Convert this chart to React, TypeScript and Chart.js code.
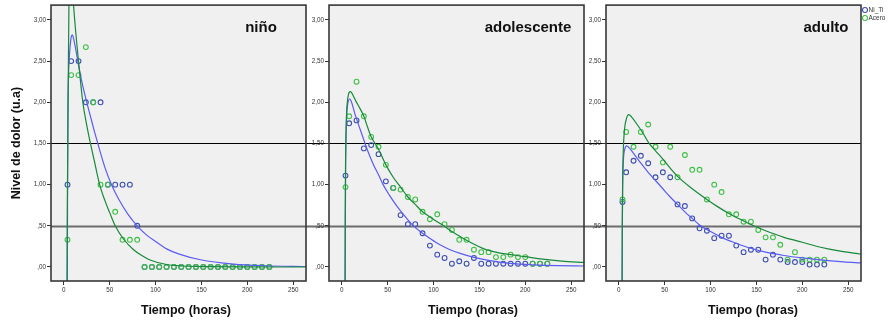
import React, { useEffect, useRef } from "react";
import { Chart, registerables } from "chart.js";

Chart.register(...registerables);

// ---------- DATA ----------
const sampleHours = [4, 8, 16, 24, 32, 40, 48, 56, 64, 72, 80, 88, 96, 104, 112, 120, 128, 136, 144, 152, 160, 168, 176, 184, 192, 200, 208, 216, 224];

const ninoNiTi = [1.0, 2.5, 2.5, 2.0, 2.0, 2.0, 1.0, 1.0, 1.0, 1.0, 0.5, 0, 0, 0, 0, 0, 0, 0, 0, 0, 0, 0, 0, 0, 0, 0, 0, 0, 0];
const ninoAcero = [0.33, 2.33, 2.33, 2.67, 2.0, 1.0, 1.0, 0.67, 0.33, 0.33, 0.33, 0, 0, 0, 0, 0, 0, 0, 0, 0, 0, 0, 0, 0, 0, 0, 0, 0, 0];

const adolNiTi = [1.11, 1.745, 1.78, 1.44, 1.48, 1.37, 1.04, 0.96, 0.63, 0.52, 0.52, 0.41, 0.26, 0.15, 0.11, 0.04, 0.07, 0.04, 0.11, 0.04, 0.04, 0.04, 0.04, 0.04, 0.04, 0.04, 0.04, 0.04, 0.04];
const adolAcero = [0.97, 1.83, 2.25, 1.83, 1.58, 1.46, 1.24, 0.96, 0.94, 0.85, 0.82, 0.67, 0.58, 0.64, 0.52, 0.45, 0.33, 0.33, 0.21, 0.18, 0.18, 0.12, 0.12, 0.15, 0.12, 0.12, 0.04, 0.04, 0.04];

const adultoNiTi = [0.79, 1.15, 1.29, 1.35, 1.26, 1.09, 1.15, 1.09, 0.76, 0.74, 0.59, 0.47, 0.44, 0.35, 0.38, 0.38, 0.26, 0.18, 0.21, 0.21, 0.09, 0.15, 0.09, 0.06, 0.06, 0.06, 0.03, 0.03, 0.03];
const adultoAcero = [0.82, 1.64, 1.46, 1.64, 1.73, 1.46, 1.27, 1.46, 1.09, 1.36, 1.18, 1.18, 0.82, 1.0, 0.91, 0.64, 0.64, 0.55, 0.55, 0.45, 0.36, 0.36, 0.27, 0.09, 0.18, 0.09, 0.09, 0.09, 0.09];

// fitted curves
const ninoNiTiCurveT = [3.7, 3.9, 4.1, 4.4, 5, 6, 7, 8, 9, 10, 12.7, 16, 20, 25, 29, 33, 37, 45, 52, 60, 70, 80, 90, 100, 112, 125, 149, 185, 220, 264];
const ninoNiTiCurveV = [-0.6, 0.2, 1.2, 1.9, 2.3, 2.55, 2.7, 2.79, 2.82, 2.8, 2.66, 2.45, 2.23, 2.0, 1.83, 1.66, 1.5, 1.2, 1.0, 0.82, 0.64, 0.5, 0.39, 0.31, 0.22, 0.16, 0.088, 0.035, 0.015, 0.006];
const ninoAceroCurveT = [3.3, 3.6, 4.0, 4.4, 5.0, 5.6, 6.5, 8, 10.5, 13, 16, 20.7, 25, 29, 33, 39, 45, 50, 56, 65, 76, 85, 94, 112, 130, 160, 200, 264];
const ninoAceroCurveV = [-0.6, 0.3, 1.0, 1.6, 2.5, 3.25, 3.8, 3.75, 3.2, 2.85, 2.5, 2.0, 1.72, 1.5, 1.3, 1.0, 0.8, 0.66, 0.5, 0.34, 0.21, 0.14, 0.085, 0.03, 0.012, 0.004, 0.001, 0];

const adolNiTiCurveT = [3.5, 3.8, 4.1, 4.6, 5.3, 6.5, 8.5, 10, 14.5, 20, 25.3, 30, 35, 40, 45, 52, 60, 70, 78, 88, 97, 107, 118, 129, 143, 160, 183, 210, 235, 264];
const adolNiTiCurveV = [-0.6, 0.5, 1.2, 1.6, 1.85, 1.98, 2.04, 2.02, 1.85, 1.67, 1.5, 1.36, 1.23, 1.12, 1.0, 0.87, 0.74, 0.6, 0.5, 0.41, 0.34, 0.27, 0.21, 0.165, 0.12, 0.08, 0.045, 0.026, 0.017, 0.012];
const adolAceroCurveT = [3.4, 3.7, 4.0, 4.5, 5.2, 6.5, 8, 9.5, 11, 15, 20, 24, 28, 32, 40, 48, 56, 64, 72, 80, 88, 96, 104, 111, 120, 129, 140, 155, 170, 184, 200, 219, 240, 264];
const adolAceroCurveV = [-0.6, 0.6, 1.2, 1.6, 1.88, 2.05, 2.12, 2.13, 2.11, 2.02, 1.92, 1.83, 1.7, 1.58, 1.43, 1.24, 1.09, 0.97, 0.85, 0.76, 0.67, 0.61, 0.55, 0.5, 0.43, 0.37, 0.3, 0.22, 0.175, 0.15, 0.125, 0.095, 0.072, 0.055];

const adultoNiTiCurveT = [3.5, 3.8, 4.2, 5, 6.5, 8.5, 11, 16, 24, 32, 40, 48, 56, 64, 72, 80, 88, 100, 112, 125, 140, 160, 180, 200, 225, 245, 264];
const adultoNiTiCurveV = [-0.6, 0.5, 1.0, 1.3, 1.43, 1.47, 1.45, 1.38, 1.26, 1.15, 1.05, 0.95, 0.85, 0.76, 0.67, 0.59, 0.51, 0.43, 0.36, 0.3, 0.24, 0.18, 0.14, 0.11, 0.08, 0.062, 0.05];
const adultoAceroCurveT = [3.4, 3.7, 4.1, 4.8, 6.2, 8, 10.8, 14, 20, 26, 33, 40, 48, 56, 64, 80, 96, 108, 120, 134, 147, 160, 180, 200, 220, 240, 264];
const adultoAceroCurveV = [-0.6, 0.4, 1.0, 1.4, 1.67, 1.79, 1.85, 1.82, 1.73, 1.63, 1.5, 1.41, 1.31, 1.2, 1.1, 0.95, 0.82, 0.73, 0.65, 0.57, 0.5, 0.44, 0.36, 0.3, 0.24, 0.195, 0.155];

const xTickValues = [0, 50, 100, 150, 200, 250];
const xTickLabels = ["0", "50", "100", "150", "200", "250"];
const yTickValues = [0, 0.5, 1, 1.5, 2, 2.5, 3];
const yTickLabels = [",00", ",50", "1,00", "1,50", "2,00", "2,50", "3,00"];
const referenceLevels = [1.5, 0.5];
const panelTitles = ["niño", "adolescente", "adulto"];
const seriesNames = ["Ni_Ti", "Acero"];
const xAxisTitle = "Tiempo (horas)";
const yAxisTitle = "Nivel de dolor (u.a)";

// ---------- STYLE ----------
const FONT = "'Liberation Sans', Arial, Helvetica, sans-serif";
const BLUE_PT = "#3e4fb0";
const GREEN_PT = "#3fbf46";
const BLUE_LINE = "#5a5cf2";
const GREEN_LINE = "#178a3a";
const REF_COLORS = ["#000000", "#6c6c6c"];
const REF_WIDTHS = [1.2, 2.2];
const W = 895;
const H = 322;

const PANELS = [
  {
    title: panelTitles[0], niTi: ninoNiTi, acero: ninoAcero,
    niTiT: ninoNiTiCurveT, niTiV: ninoNiTiCurveV, aceroT: ninoAceroCurveT, aceroV: ninoAceroCurveV,
    padLeft: 0, yWidth: 51, padRight: W - 306, titleX: 261, xTitleX: 186, lineTo: 329, yTitle: true, legend: false,
  },
  {
    title: panelTitles[1], niTi: adolNiTi, acero: adolAcero,
    niTiT: adolNiTiCurveT, niTiV: adolNiTiCurveV, aceroT: adolAceroCurveT, aceroV: adolAceroCurveV,
    padLeft: 306, yWidth: 23, padRight: W - 584, titleX: 528, xTitleX: 473, lineTo: 606, yTitle: false, legend: false,
  },
  {
    title: panelTitles[2], niTi: adultoNiTi, acero: adultoAcero,
    niTiT: adultoNiTiCurveT, niTiV: adultoNiTiCurveV, aceroT: adultoAceroCurveT, aceroV: adultoAceroCurveV,
    padLeft: 584, yWidth: 22, padRight: W - 861, titleX: 826, xTitleX: 753, lineTo: null, yTitle: false, legend: true,
  },
];

const panelDecor = {
  id: "panelDecor",
  beforeDraw(chart: any) {
    const { ctx, chartArea: a } = chart;
    ctx.save();
    ctx.fillStyle = "#f0f0f0";
    ctx.fillRect(a.left, a.top, a.right - a.left, a.bottom - a.top);
    ctx.restore();
  },
  beforeDatasetsDraw(chart: any, _args: any, o: any) {
    const { ctx, chartArea: a, scales } = chart;
    const x2 = o.lineTo == null ? a.right : o.lineTo;
    ctx.save();
    referenceLevels.forEach((lvl, i) => {
      const y = Math.round(scales.y.getPixelForValue(lvl)) + 0.5;
      ctx.strokeStyle = REF_COLORS[i];
      ctx.lineWidth = REF_WIDTHS[i];
      ctx.beginPath();
      ctx.moveTo(a.left, y);
      ctx.lineTo(x2, y);
      ctx.stroke();
    });
    ctx.restore();
  },
  afterDatasetsDraw(chart: any, _args: any, o: any) {
    const { ctx, chartArea: a } = chart;
    ctx.save();
    ctx.strokeStyle = "#383838";
    ctx.lineWidth = 1.6;
    ctx.strokeRect(a.left, a.top, a.right - a.left, a.bottom - a.top);

    ctx.fillStyle = "#111";
    ctx.font = `bold 15px ${FONT}`;
    ctx.textAlign = "center";
    ctx.textBaseline = "alphabetic";
    ctx.fillText(o.title, o.titleX, 31.5);

    ctx.font = `bold 12.5px ${FONT}`;
    ctx.fillText(xAxisTitle, o.xTitleX, 313.5);

    if (o.legend) {
      const cols = [BLUE_PT, GREEN_PT];
      const ys = [10, 18];
      ctx.font = `6.5px ${FONT}`;
      ctx.textAlign = "left";
      ctx.textBaseline = "middle";
      seriesNames.forEach((name, i) => {
        ctx.strokeStyle = cols[i];
        ctx.lineWidth = 1.1;
        ctx.beginPath();
        ctx.arc(a.right + 4, ys[i], 2.5, 0, Math.PI * 2);
        ctx.stroke();
        ctx.fillStyle = "#333";
        ctx.fillText(name, a.right + 7.5, ys[i] + 0.5);
      });
    }
    ctx.restore();
  },
};

function buildConfig(p: any): any {
  const toPts = (vals: number[]) => sampleHours.map((t, i) => ({ x: t, y: vals[i] }));
  const toCurve = (ts: number[], vs: number[]) => ts.map((t, i) => ({ x: t, y: vs[i] }));
  const tickFont = { family: FONT, size: 6.3 };
  return {
    type: "scatter",
    data: {
      datasets: [
        {
          label: seriesNames[1] + " ajuste", data: toCurve(p.aceroT, p.aceroV), showLine: true,
          borderColor: GREEN_LINE, borderWidth: 1.2, pointRadius: 0, cubicInterpolationMode: "monotone", fill: false,
        },
        {
          label: seriesNames[0] + " ajuste", data: toCurve(p.niTiT, p.niTiV), showLine: true,
          borderColor: BLUE_LINE, borderWidth: 1.2, pointRadius: 0, cubicInterpolationMode: "monotone", fill: false,
        },
        {
          label: seriesNames[1], data: toPts(p.acero), showLine: false, pointRadius: 2.4, pointBorderWidth: 1.1,
          borderColor: GREEN_PT, pointBorderColor: GREEN_PT, backgroundColor: "rgba(0,0,0,0)", pointBackgroundColor: "rgba(0,0,0,0)",
        },
        {
          label: seriesNames[0], data: toPts(p.niTi), showLine: false, pointRadius: 2.4, pointBorderWidth: 1.1,
          borderColor: BLUE_PT, pointBorderColor: BLUE_PT, backgroundColor: "rgba(0,0,0,0)", pointBackgroundColor: "rgba(0,0,0,0)",
        },
      ],
    },
    options: {
      responsive: false,
      animation: false,
      devicePixelRatio: 1,
      events: [],
      layout: { padding: { left: p.padLeft, right: p.padRight, top: 5, bottom: 0 } },
      plugins: {
        legend: { display: false },
        tooltip: { enabled: false },
        title: { display: false },
        panelDecor: { title: p.title, titleX: p.titleX, xTitleX: p.xTitleX, lineTo: p.lineTo, legend: p.legend },
      },
      scales: {
        x: {
          type: "linear", position: "bottom", min: -14, max: 264, bounds: "data",
          afterBuildTicks: (s: any) => { s.ticks = xTickValues.map((v) => ({ value: v })); },
          afterFit: (s: any) => { s.height = H - 281; },
          ticks: {
            callback: (_v: any, i: number) => xTickLabels[i],
            font: tickFont, color: "#333", padding: 1, maxRotation: 0, autoSkip: false,
          },
          grid: { drawOnChartArea: false, drawTicks: true, tickLength: 4, color: "#333", lineWidth: 1 },
          border: { display: false },
          title: { display: false },
        },
        y: {
          type: "linear", position: "left", min: -0.17, max: 3.18, bounds: "data",
          afterBuildTicks: (s: any) => { s.ticks = yTickValues.map((v) => ({ value: v })); },
          afterFit: (s: any) => { s.width = p.yWidth; },
          ticks: {
            callback: (_v: any, i: number) => yTickLabels[i],
            font: tickFont, color: "#333", padding: 1, autoSkip: false,
          },
          grid: { drawOnChartArea: false, drawTicks: true, tickLength: 4, color: "#333", lineWidth: 1 },
          border: { display: false },
          title: {
            display: p.yTitle, text: yAxisTitle, color: "#111",
            font: { family: FONT, size: 12.5, weight: "bold" }, padding: { top: 9.5, bottom: 0 },
          },
        },
      },
    },
    plugins: [panelDecor],
  };
}

export default function App() {
  const r0 = useRef<HTMLCanvasElement>(null);
  const r1 = useRef<HTMLCanvasElement>(null);
  const r2 = useRef<HTMLCanvasElement>(null);
  const refs = [r0, r1, r2];

  useEffect(() => {
    const charts = PANELS.map((p, i) => new Chart(refs[i].current as HTMLCanvasElement, buildConfig(p)));
    return () => charts.forEach((c) => c.destroy());
  }, []);

  return (
    <div style={{ position: "fixed", left: 0, top: 0, width: W, height: H, background: "#fff" }}>
      {PANELS.map((_p, i) => (
        <canvas
          key={i}
          ref={refs[i]}
          width={W}
          height={H}
          style={{ position: "absolute", left: 0, top: 0, width: W, height: H }}
        />
      ))}
    </div>
  );
}
